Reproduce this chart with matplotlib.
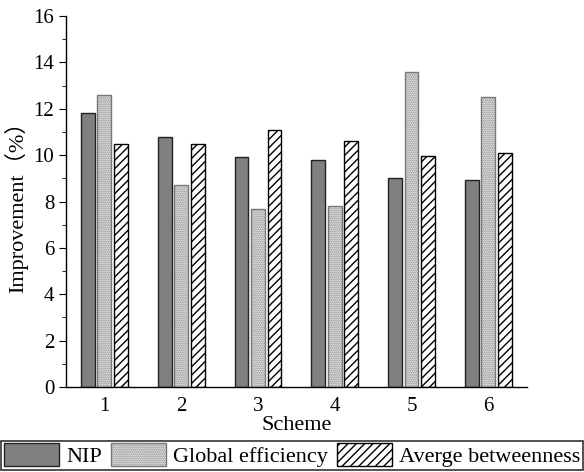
import matplotlib
matplotlib.use("Agg")
import matplotlib.pyplot as plt
import numpy as np
from matplotlib.ticker import MultipleLocator

plt.rcParams["font.family"] = "Liberation Serif"
plt.rcParams["hatch.linewidth"] = 1.0

# ---- data ----
schemes = ["1", "2", "3", "4", "5", "6"]
nip = [11.8, 10.8, 9.9, 9.8, 9.0, 8.95]
global_eff = [12.6, 8.7, 7.7, 7.8, 13.6, 12.5]
avg_betw = [10.5, 10.5, 11.1, 10.6, 9.95, 10.1]

fig = plt.figure(figsize=(5.84, 4.72), dpi=100)
ax = fig.add_axes([0.113, 0.180, 0.789, 0.786])

x = np.arange(1, len(schemes) + 1)
w = 0.18
step = 0.215

ax.bar(x - step, nip, w, color="#808080", edgecolor="#222222", linewidth=1.0,
       label="NIP")
ax.bar(x, global_eff, w, color="white", edgecolor="#777777", hatch="........",
       linewidth=1.0, label="Global efficiency")
ax.bar(x + step, avg_betw, w, color="white", edgecolor="black", hatch="////",
       linewidth=1.0, label="Averge betweenness")

ax.set_xlim(0.5, 6.5)
ax.set_ylim(0, 16)
ax.set_xticks(x)
ax.set_xticklabels(schemes)
ax.yaxis.set_major_locator(MultipleLocator(2))
ax.yaxis.set_minor_locator(MultipleLocator(1))
ax.tick_params(axis="x", length=0, labelsize=15, pad=7)
ax.tick_params(axis="y", which="major", direction="out", length=5, labelsize=15)
ax.tick_params(axis="y", which="minor", direction="out", length=3)
for s in ("top", "right"):
    ax.spines[s].set_visible(False)
for s in ("left", "bottom"):
    ax.spines[s].set_linewidth(1.0)

ax.set_xlabel("Scheme", fontsize=16, labelpad=0)
ax.set_ylabel("Improvement（%）", fontsize=16, labelpad=4,
              family=["Liberation Serif", "Noto Sans CJK SC"])

leg = fig.legend(loc="lower center", bbox_to_anchor=(0.5, 0.0), ncol=3,
                 fontsize=16, frameon=True, fancybox=False, edgecolor="black",
                 handlelength=2.5, handleheight=1.2, columnspacing=0.4,
                 handletextpad=0.3, borderpad=0.12, borderaxespad=0.1)
leg.get_frame().set_linewidth(1.2)

fig.savefig("out.png", dpi=100)
